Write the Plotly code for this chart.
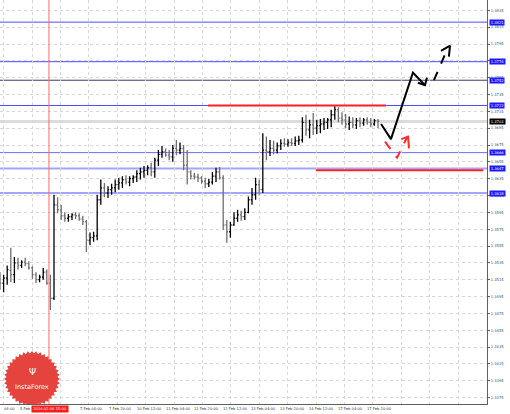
import math
import plotly.graph_objects as go

# 2-hour OHLC bars, x in "hours" (1 unit = 1.8 px in the window)
bar_hours = list(range(0, 212, 2))
opens = [1.3515, 1.3511, 1.3517, 1.3526, 1.3521, 1.3535, 1.3532, 1.3536, 1.3534, 1.3529,
         1.3521, 1.3515, 1.3518, 1.3524, 1.3511, 1.3493, 1.3604, 1.3598, 1.3591, 1.3588,
         1.3590, 1.3592, 1.3591, 1.3587, 1.3584, 1.3562, 1.3565, 1.3567, 1.3610, 1.3624,
         1.3618, 1.3622, 1.3624, 1.3628, 1.3630, 1.3634, 1.3631, 1.3635, 1.3637, 1.3641,
         1.3643, 1.3645, 1.3648, 1.3643, 1.3657, 1.3664, 1.3667, 1.3663, 1.3661, 1.3671,
         1.3669, 1.3671, 1.3651, 1.3643, 1.3638, 1.3637, 1.3636, 1.3632, 1.3629, 1.3631,
         1.3638, 1.3643, 1.3636, 1.3580, 1.3572, 1.3580, 1.3588, 1.3592, 1.3590, 1.3595,
         1.3610, 1.3616, 1.3628, 1.3622, 1.3669, 1.3667, 1.3671, 1.3669, 1.3674, 1.3677,
         1.3676, 1.3678, 1.3677, 1.3680, 1.3681, 1.3702, 1.3693, 1.3699, 1.3695, 1.3698,
         1.3700, 1.3702, 1.3705, 1.3711, 1.3717, 1.3707, 1.3705, 1.3700, 1.3702, 1.3699,
         1.3704, 1.3701, 1.3705, 1.3702, 1.3700, 1.3704]
highs = [1.3524, 1.3521, 1.3532, 1.3553, 1.3542, 1.3541, 1.3538, 1.3541, 1.3537, 1.3531,
         1.3524, 1.3521, 1.3529, 1.3527, 1.3521, 1.3616, 1.3613, 1.3604, 1.3595, 1.3593,
         1.3594, 1.3595, 1.3594, 1.3591, 1.3586, 1.3571, 1.3572, 1.3616, 1.3634, 1.3630,
         1.3626, 1.3629, 1.3634, 1.3636, 1.3638, 1.3639, 1.3638, 1.3639, 1.3645, 1.3648,
         1.3650, 1.3651, 1.3654, 1.3660, 1.3669, 1.3674, 1.3671, 1.3669, 1.3675, 1.3681,
         1.3678, 1.3675, 1.3669, 1.3645, 1.3642, 1.3641, 1.3638, 1.3636, 1.3635, 1.3643,
         1.3648, 1.3649, 1.3639, 1.3586, 1.3584, 1.3595, 1.3598, 1.3597, 1.3600, 1.3614,
         1.3624, 1.3636, 1.3634, 1.3689, 1.3685, 1.3681, 1.3680, 1.3678, 1.3682, 1.3683,
         1.3682, 1.3683, 1.3685, 1.3686, 1.3708, 1.3711, 1.3705, 1.3713, 1.3705, 1.3706,
         1.3707, 1.3707, 1.3717, 1.3721, 1.3720, 1.3714, 1.3712, 1.3709, 1.3708, 1.3707,
         1.3708, 1.3707, 1.3708, 1.3707, 1.3706, 1.3706]
lows = [1.3503, 1.3500, 1.3509, 1.3512, 1.3511, 1.3527, 1.3529, 1.3531, 1.3527, 1.3516,
        1.3511, 1.3512, 1.3515, 1.3509, 1.3479, 1.3491, 1.3594, 1.3586, 1.3584, 1.3584,
        1.3586, 1.3587, 1.3585, 1.3580, 1.3548, 1.3556, 1.3560, 1.3562, 1.3604, 1.3613,
        1.3612, 1.3616, 1.3619, 1.3622, 1.3624, 1.3628, 1.3626, 1.3630, 1.3631, 1.3634,
        1.3636, 1.3639, 1.3638, 1.3636, 1.3650, 1.3660, 1.3661, 1.3657, 1.3655, 1.3663,
        1.3664, 1.3645, 1.3628, 1.3634, 1.3634, 1.3631, 1.3629, 1.3624, 1.3625, 1.3628,
        1.3631, 1.3634, 1.3574, 1.3559, 1.3565, 1.3579, 1.3584, 1.3585, 1.3586, 1.3594,
        1.3604, 1.3610, 1.3616, 1.3618, 1.3657, 1.3662, 1.3664, 1.3665, 1.3669, 1.3673,
        1.3673, 1.3674, 1.3674, 1.3675, 1.3678, 1.3686, 1.3683, 1.3687, 1.3688, 1.3689,
        1.3693, 1.3694, 1.3696, 1.3705, 1.3702, 1.3699, 1.3695, 1.3693, 1.3695, 1.3694,
        1.3696, 1.3698, 1.3699, 1.3696, 1.3698, 1.3695]
closes = [1.3511, 1.3517, 1.3527, 1.3521, 1.3535, 1.3532, 1.3536, 1.3534, 1.3529, 1.3521,
          1.3515, 1.3518, 1.3524, 1.3511, 1.3493, 1.3604, 1.3598, 1.3591, 1.3588, 1.3590,
          1.3592, 1.3591, 1.3587, 1.3584, 1.3562, 1.3565, 1.3567, 1.3610, 1.3624, 1.3618,
          1.3622, 1.3624, 1.3628, 1.3630, 1.3634, 1.3631, 1.3635, 1.3637, 1.3641, 1.3643,
          1.3645, 1.3648, 1.3643, 1.3657, 1.3664, 1.3667, 1.3663, 1.3661, 1.3671, 1.3669,
          1.3671, 1.3651, 1.3643, 1.3638, 1.3637, 1.3636, 1.3632, 1.3629, 1.3631, 1.3638,
          1.3643, 1.3636, 1.3580, 1.3572, 1.3580, 1.3588, 1.3592, 1.3590, 1.3595, 1.3610,
          1.3616, 1.3628, 1.3622, 1.3669, 1.3667, 1.3671, 1.3669, 1.3674, 1.3677, 1.3676,
          1.3678, 1.3677, 1.3680, 1.3681, 1.3702, 1.3693, 1.3699, 1.3695, 1.3698, 1.3700,
          1.3702, 1.3705, 1.3711, 1.3717, 1.3707, 1.3705, 1.3700, 1.3702, 1.3699, 1.3704,
          1.3701, 1.3705, 1.3702, 1.3700, 1.3704, 1.3703]

price_ticks = [1.3375, 1.3395, 1.3415, 1.3435, 1.3455, 1.3475, 1.3495, 1.3515, 1.3535,
               1.3555, 1.3575, 1.3595, 1.3615, 1.3635, 1.3655, 1.3675, 1.3695, 1.3715,
               1.3735, 1.3755, 1.3775, 1.3795, 1.3815, 1.3835]

# horizontal levels (value, colour, width)
blue_levels = [(1.3821, "#4b4bff", 1), (1.3774, "#4b4bff", 1), (1.3752, "#3a3a70", 1),
               (1.3722, "#4b4bff", 1), (1.3666, "#6a6aff", 1), (1.3647, "#a4a4ff", 2),
               (1.3618, "#a4a4ff", 2)]
current_price = 1.3703
red_segments = [(115.6, 214.4, 1.3722), (175.5, 268.5, 1.3645)]
event_hour = 27.2

# hand-drawn forecast paths
black_x = [211.7, 217.2, 229.4, 236.1]
black_y = [1.3700, 1.3682, 1.3761, 1.3746]
black_head_x = [232.2, 236.1, 237.2]
black_head_y = [1.3749, 1.3746, 1.3755]
dash_x = [241.1, 248.3]
dash_y = [1.3752, 1.3788]
dash_head_x = [245.0, 250.0, 249.4]
dash_head_y = [1.3787, 1.3793, 1.3780]
red_x = [213.9, 220.6, 226.1]
red_y = [1.3679, 1.3660, 1.3684]
red_head_x = [223.0, 226.7, 227.2]
red_head_y = [1.3682, 1.3685, 1.3671]

x_labels = ["04:00", "5 Feb 20:00", "7 Feb 04:00", "7 Feb 20:00", "10 Feb 12:00",
            "11 Feb 04:00", "11 Feb 20:00", "12 Feb 12:00", "13 Feb 04:00",
            "13 Feb 20:00", "14 Feb 12:00", "17 Feb 04:00", "17 Feb 20:00"]
x_label_px = [2, 18, 78, 106.5, 135, 163.5, 192, 220.5, 249, 277.5, 307, 336, 365]

PX = 1.8
plot_w, plot_h = 487, 404
y_top = 1.38473
y_bot = y_top - 0.0001188 * plot_h
FONT = "DejaVu Sans"
SMALL = 3.7

fig = go.Figure()
fig.add_trace(go.Ohlc(x=bar_hours, open=opens, high=highs, low=lows, close=closes,
                      increasing=dict(line=dict(color="#000000", width=1.3)),
                      decreasing=dict(line=dict(color="#6e6e6e", width=1.3)),
                      tickwidth=0.35, hoverinfo="skip", showlegend=False))

for xs, ys, col, dash in [(black_x, black_y, "#000000", "solid"),
                          (black_head_x, black_head_y, "#000000", "solid"),
                          (dash_x, dash_y, "#000000", "dash"),
                          (dash_head_x, dash_head_y, "#000000", "solid"),
                          (red_x, red_y, "#ff2a2a", "dash"),
                          (red_head_x, red_head_y, "#ff2a2a", "solid")]:
    fig.add_trace(go.Scatter(x=xs, y=ys, mode="lines", showlegend=False, hoverinfo="skip",
                             line=dict(color=col, width=2, dash=dash)))

shapes = []
for val, col, w in blue_levels:
    shapes.append(dict(type="line", xref="paper", x0=0, x1=1, yref="y", y0=val, y1=val,
                       line=dict(color=col, width=w), layer="below"))
shapes.append(dict(type="line", xref="paper", x0=0, x1=1, yref="y", y0=current_price,
                   y1=current_price, line=dict(color="#dcdcdc", width=3), layer="below"))
for x0, x1, val in red_segments:
    shapes.append(dict(type="line", x0=x0, x1=x1, y0=val, y1=val,
                       line=dict(color="#ff2020", width=2)))
shapes.append(dict(type="line", x0=event_hour, x1=event_hour, yref="paper", y0=0, y1=1,
                   line=dict(color="#ff6a6a", width=1)))

# InstaForex badge (saw-tooth circle) in paper coords
cx, cy = 32, 379
pts = []
for i in range(80):
    a = 2 * math.pi * i / 80
    r = 28 if i % 2 == 0 else 25.5
    px = cx + r * math.cos(a)
    py = min(cy + r * math.sin(a), plot_h)
    pts.append(f"{px / plot_w:.5f},{1 - py / plot_h:.5f}")
shapes.append(dict(type="path", xref="paper", yref="paper",
                   path="M " + " L ".join(pts) + " Z",
                   fillcolor="#e5443e", line=dict(width=0)))

annotations = []
for txt, px in zip(x_labels, x_label_px):
    annotations.append(dict(text=txt, x=px / PX, xref="x", xanchor="left", y=0, yref="paper",
                            yanchor="top", yshift=-1, showarrow=False,
                            font=dict(size=SMALL, color="#333333", family=FONT)))
annotations.append(dict(text="2014.02.06 15:00", x=event_hour + 0.6, xref="x", xanchor="center",
                        y=0, yref="paper", yanchor="top", yshift=-1, showarrow=False,
                        bgcolor="#ff1a1a", borderpad=1.2,
                        font=dict(size=SMALL, color="#ffffff", family=FONT)))
for val, col, w in blue_levels:
    annotations.append(dict(text=f"{val:.4f}", x=1, xref="paper", xanchor="left", xshift=2,
                            y=val, yref="y", showarrow=False, bgcolor="#1a1aff", borderpad=0.7,
                            font=dict(size=SMALL, color="#ffffff", family=FONT)))
annotations.append(dict(text=f"{current_price:.4f}", x=1, xref="paper", xanchor="left", xshift=2,
                        y=current_price, yref="y", showarrow=False, bgcolor="#000000",
                        borderpad=0.7, font=dict(size=SMALL, color="#ffffff", family=FONT)))
annotations.append(dict(text="Ψ", x=cx / plot_w, xref="paper", xanchor="center",
                        y=1 - 372 / plot_h, yref="paper", yanchor="middle",
                        showarrow=False, font=dict(size=9, color="#ffffff", family=FONT)))
annotations.append(dict(text="InstaForex", x=cx / plot_w, xref="paper", xanchor="center",
                        y=1 - 387 / plot_h, yref="paper", yanchor="middle", showarrow=False,
                        font=dict(size=6.5, color="#ffffff", family=FONT)))

grid_hours = [2 + 15.78 * n for n in range(18)]

fig.update_xaxes(range=[0, plot_w / PX], tickvals=grid_hours, showticklabels=False,
                 showgrid=True, gridcolor="#d6d6d6", griddash="dot", gridwidth=1,
                 zeroline=False, showline=True, linecolor="#606060", linewidth=1,
                 rangeslider=dict(visible=False), fixedrange=True)
fig.update_yaxes(range=[y_bot, y_top], side="right", tickvals=price_ticks, tickformat=".4f",
                 tickfont=dict(size=SMALL, color="#444444", family=FONT),
                 showgrid=True, gridcolor="#d6d6d6", griddash="dot", gridwidth=1,
                 zeroline=False, showline=True, linecolor="#606060", linewidth=1,
                 ticks="outside", ticklen=2, tickcolor="#606060", fixedrange=True)
fig.update_layout(width=510, height=414, margin=dict(l=0, r=23, t=0, b=10),
                  paper_bgcolor="#ffffff", plot_bgcolor="#ffffff",
                  shapes=shapes, annotations=annotations, showlegend=False)

fig.write_html("out.html", config={"displayModeBar": False},
               post_script="document.body.style.margin='0';document.body.style.overflow='hidden';")
